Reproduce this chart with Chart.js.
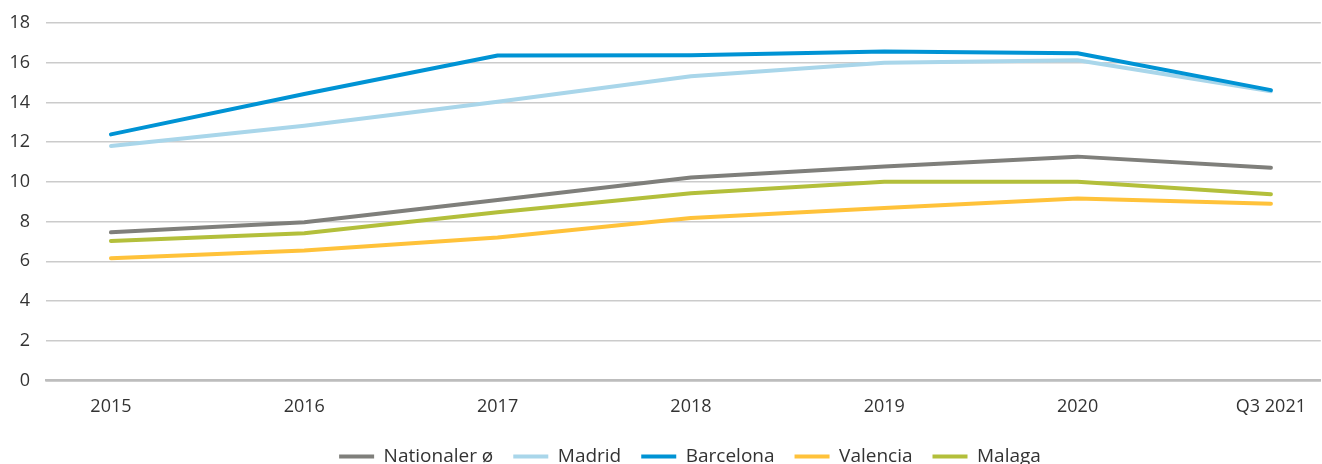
<!DOCTYPE html>
<html>
<head>
<meta charset="utf-8">
<script src="https://cdn.jsdelivr.net/npm/chart.js@4/dist/chart.umd.min.js"></script>
<style>
html,body{margin:0;padding:0;background:#fff;overflow:hidden;}
#wrap{position:relative;width:1322px;height:476px;}
</style>
</head>
<body>
<div id="wrap"><canvas id="c"></canvas></div>
<script>
const categories = ['2015','2016','2017','2018','2019','2020','Q3 2021'];
const nationaler = [7.46, 7.97, 9.08, 10.22, 10.77, 11.27, 10.71];
const madrid     = [11.80, 12.82, 14.03, 15.32, 16.00, 16.12, 14.56];
const barcelona  = [12.39, 14.42, 16.36, 16.37, 16.57, 16.48, 14.62];
const valencia   = [6.15, 6.54, 7.20, 8.18, 8.68, 9.16, 8.90];
const malaga     = [7.02, 7.41, 8.47, 9.42, 10.00, 10.01, 9.38];
const yTicks = [0,2,4,6,8,10,12,14,16,18];

const seriesNames = ['Nationaler ø','Madrid','Barcelona','Valencia','Malaga'];
const seriesValues = [nationaler, madrid, barcelona, valencia, malaga];
const seriesColors = ['#7f7f7b','#a9d6ea','#0093d4','#ffc23a','#b3bf3b'];

const toPoints = arr => arr.map((v,i)=>({x:i, y:v}));
const FONT = '"Open Sans", "Noto Sans", sans-serif';

const legendShift = {
  id: 'legendShift',
  afterLayout(chart) {
    const l = chart.legend;
    if (l) { l.left += 29; l.right += 29; }
  }
};

new Chart(document.getElementById('c'), {
  type: 'line',
  data: {
    datasets: seriesNames.map((n,i)=>({
      label: n,
      data: toPoints(seriesValues[i]),
      borderColor: seriesColors[i],
      backgroundColor: seriesColors[i],
      borderWidth: 4,
      pointRadius: 0,
      pointHoverRadius: 0,
      tension: 0,
      borderCapStyle: 'round',
      borderJoinStyle: 'round',
      fill: false,
      order: [3,4,1,5,2][i]
    }))
  },
  plugins: [legendShift],
  options: {
    responsive: true,
    maintainAspectRatio: false,
    animation: false,
    layout: { padding: { top: 23, left: 0, right: 0, bottom: 0 } },
    scales: {
      x: {
        type: 'linear',
        min: -0.336,
        max: 6.258,
        afterFit: s => { s.height = s.height - 7; },
        grid: { display: false, drawTicks: false },
        border: { display: true, color: '#bdbdbd', width: 2.5 },
        ticks: {
          stepSize: 1,
          includeBounds: false,
          autoSkip: false,
          maxRotation: 0,
          padding: 16,
          color: '#333',
          font: { family: FONT, size: 18 },
          callback: v => (Number.isInteger(v) && categories[v] !== undefined) ? categories[v] : ''
        }
      },
      y: {
        min: 0,
        max: 18,
        afterBuildTicks: s => { s.ticks = yTicks.map(v=>({value:v})); },
        afterFit: s => { s.width = 46; s.paddingTop = 0; s.paddingBottom = 0; },
        grid: {
          drawTicks: false,
          color: ctx => ctx.tick && ctx.tick.value === 0 ? '#bdbdbd' : '#cbcbcb',
          lineWidth: ctx => ctx.tick && ctx.tick.value === 0 ? 2.5 : 1.5
        },
        border: { display: false },
        ticks: {
          padding: 16,
          color: '#333',
          font: { family: FONT, size: 18 }
        }
      }
    },
    plugins: {
      tooltip: { enabled: false },
      legend: {
        position: 'bottom',
        labels: {
          usePointStyle: true,
          pointStyle: 'line',
          pointStyleWidth: 35,
          boxHeight: 18,
          padding: 20,
          color: '#333',
          font: { family: FONT, size: 19 },
          sort: (a,b) => a.datasetIndex - b.datasetIndex
        }
      }
    }
  }
});
</script>
</body>
</html>
